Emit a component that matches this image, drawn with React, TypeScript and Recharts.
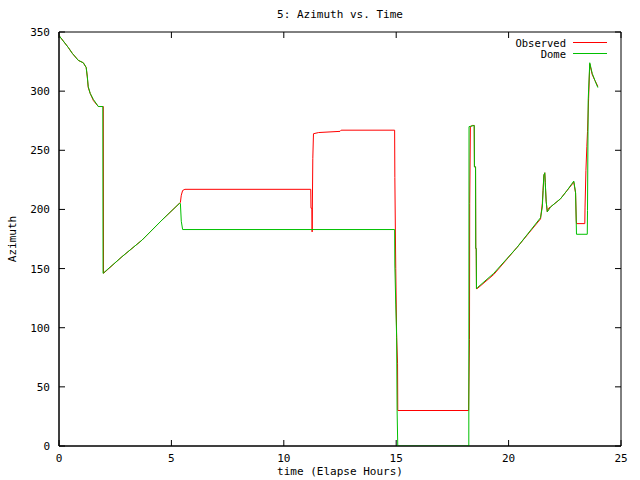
import { LineChart, Line, XAxis, YAxis, ReferenceArea, ReferenceLine } from 'recharts';

// Observed azimuth (red) - time in elapsed hours
const obsTime = [
  0, 0.41, 0.59, 0.86, 1.08, 1.21, 1.26, 1.3, 1.39, 1.53, 1.75, 1.97, 1.98, 2.8, 3.69, 4.58, 5.35, 5.4, 5.44, 5.5,
  5.6, 11.2, 11.21, 11.25, 11.26, 11.29, 11.32, 11.55, 12.5, 12.55, 14.93, 14.94, 14.98, 15.02, 15.06, 15.07,
  18.22, 18.26, 18.27, 18.3, 18.39, 18.47, 18.48, 18.53, 18.54, 18.56, 18.57, 18.6, 19.34, 20.38, 21.42, 21.5,
  21.53, 21.57, 21.61, 21.63, 21.67, 21.72, 21.78, 21.86, 22.31, 22.6, 22.9, 22.98, 23.01, 23.02, 23.39, 23.4,
  23.44, 23.48, 23.51, 23.56, 23.61, 23.72, 23.84, 23.97,
];
const obsAz = [
  347, 337, 332, 326, 324, 320, 312, 303, 298, 292, 287, 287, 146, 160, 174, 191, 205, 206, 212, 216,
  217, 217, 201, 201, 181, 243, 264, 265, 266, 267, 267, 227, 150, 92, 70, 30,
  30, 90, 205, 270, 271, 271, 236, 236, 167, 167, 133, 133, 145, 168, 192, 205,
  216, 229, 231, 223, 207, 198, 201, 202, 209, 216, 223, 214, 191, 188, 188, 202,
  233, 253, 266, 294, 323, 314, 309, 304,
];

// Dome azimuth (green)
const domeTime = [
  0, 0.41, 0.59, 0.86, 1.08, 1.21, 1.26, 1.3, 1.39, 1.53, 1.75, 1.95, 1.96, 2.8, 3.69, 4.58, 5.35, 5.4, 5.44, 5.5,
  14.93, 14.94, 14.98, 15.02, 15.04, 15.07, 18.23, 18.24, 18.47, 18.48, 18.53, 18.54, 18.56, 18.57, 18.62, 19.34,
  20.38, 21.42, 21.5, 21.57, 21.61, 21.63, 21.67, 21.72, 21.8, 21.86, 22.31, 22.6, 22.9, 22.98, 23.02, 23.5,
  23.51, 23.54, 23.61, 23.72, 23.84, 23.97,
];
const domeAz = [
  347, 337, 332, 326, 324, 320, 312, 304, 298, 293, 287, 287, 146, 160, 174, 191, 205, 205, 190, 183,
  183, 153, 120, 92, 30, 0, 0, 270, 271, 236, 236, 167, 167, 133, 134, 146,
  168, 193, 202, 229, 231, 223, 207, 198, 200, 202, 209, 216, 224, 214, 179, 179,
  199, 292, 324, 315, 309, 303,
];

const xTicks = [0, 5, 10, 15, 20, 25];
const yTicks = [0, 50, 100, 150, 200, 250, 300, 350];
const X_MAX = 25;
const Y_MAX = 350;

const observed = obsTime.map((t, i) => ({ t, az: obsAz[i] }));
const dome = domeTime.map((t, i) => ({ t, az: domeAz[i] }));

const FONT = '"DejaVu Sans Mono", monospace';
const W = 640;
const H = 480;
const MARGIN = { top: 32, right: 19, bottom: 0, left: 0 };
const X_AXIS_H = 34;
const Y_AXIS_W = 59;
const PLOT_W = W - MARGIN.left - MARGIN.right - Y_AXIS_W;
const PLOT_H = H - MARGIN.top - MARGIN.bottom - X_AXIS_H;
const TICK_LEN = 6;
// inward tick length expressed in data units of each axis
const X_TICK = (TICK_LEN / PLOT_W) * X_MAX;
const Y_TICK = (TICK_LEN / PLOT_H) * Y_MAX;

function BottomTick({ x, y, payload }: any) {
  return (
    <text x={x} y={y + 16} textAnchor="middle" fontSize={11} fill="#000" fontFamily={FONT}>{payload.value}</text>
  );
}

function LeftTick({ x, y, payload }: any) {
  return (
    <text x={x - 9} y={y + 4} textAnchor="end" fontSize={11} fill="#000" fontFamily={FONT}>{payload.value}</text>
  );
}

function GnuLegend() {
  return (
    <svg width={120} height={26} style={{ display: 'block', fontFamily: FONT }}>
      <text x={66} y={10.5} textAnchor="end" fontSize={10.5} fill="#000">Observed</text>
      <line x1={73} x2={107} y1={6.5} y2={6.5} stroke="#ff0000" />
      <text x={66} y={21.5} textAnchor="end" fontSize={10.5} fill="#000">Dome</text>
      <line x1={73} x2={107} y1={17.5} y2={17.5} stroke="#00c000" />
    </svg>
  );
}

export default function App() {
  return (
    <div style={{ position: 'absolute', left: 0, top: 0, width: W, height: H, background: '#fff', fontFamily: FONT }}>
      <div
        style={{
          position: 'absolute',
          left: 240,
          top: 9,
          width: 200,
          textAlign: 'center',
          fontSize: 11,
          lineHeight: '12px',
          color: '#000',
        }}
      >
        5: Azimuth vs. Time
      </div>
      <div style={{ position: 'absolute', left: 500, top: 36 }}>
        <GnuLegend />
      </div>
      <LineChart width={W} height={H} margin={MARGIN}>
        <XAxis
          dataKey="t"
          type="number"
          domain={[0, X_MAX]}
          ticks={xTicks}
          allowDataOverflow
          height={X_AXIS_H}
          tickSize={0}
          tickMargin={0}
          tickLine={false}
          tick={<BottomTick />}
          axisLine={{ stroke: '#000' }}
          label={{ value: 'time (Elapse Hours)', position: 'insideBottom', offset: 5, fill: '#000', fontSize: 11, fontFamily: FONT }}
        />
        <YAxis
          type="number"
          domain={[0, Y_MAX]}
          ticks={yTicks}
          allowDataOverflow
          width={Y_AXIS_W}
          tickSize={0}
          tickMargin={0}
          tickLine={false}
          tick={<LeftTick />}
          axisLine={{ stroke: '#000' }}
          label={{ value: 'Azimuth', angle: -90, position: 'insideLeft', offset: 12, fill: '#000', fontSize: 11, fontFamily: FONT, style: { textAnchor: 'middle' } }}
        />
        <Line
          data={observed}
          dataKey="az"
          name="Observed"
          type="linear"
          stroke="#ff0000"
          strokeWidth={1}
          dot={false}
          isAnimationActive={false}
        />
        <Line
          data={dome}
          dataKey="az"
          name="Dome"
          type="linear"
          stroke="#00c000"
          strokeWidth={1}
          dot={false}
          isAnimationActive={false}
        />
        <ReferenceArea x1={0} x2={X_MAX} y1={0} y2={Y_MAX} fill="none" fillOpacity={0} stroke="#000" strokeWidth={1} />
        {/* gnuplot-style inward ticks on all four sides */}
        {xTicks.map((v) => (
          <ReferenceLine key={`xb${v}`} segment={[{ x: v, y: 0 }, { x: v, y: Y_TICK }]} stroke="#000" strokeWidth={1} />
        ))}
        {xTicks.map((v) => (
          <ReferenceLine key={`xt${v}`} segment={[{ x: v, y: Y_MAX - Y_TICK }, { x: v, y: Y_MAX }]} stroke="#000" strokeWidth={1} />
        ))}
        {yTicks.map((v) => (
          <ReferenceLine key={`yl${v}`} segment={[{ x: 0, y: v }, { x: X_TICK, y: v }]} stroke="#000" strokeWidth={1} />
        ))}
        {yTicks.map((v) => (
          <ReferenceLine key={`yr${v}`} segment={[{ x: X_MAX - X_TICK, y: v }, { x: X_MAX, y: v }]} stroke="#000" strokeWidth={1} />
        ))}
      </LineChart>
    </div>
  );
}
